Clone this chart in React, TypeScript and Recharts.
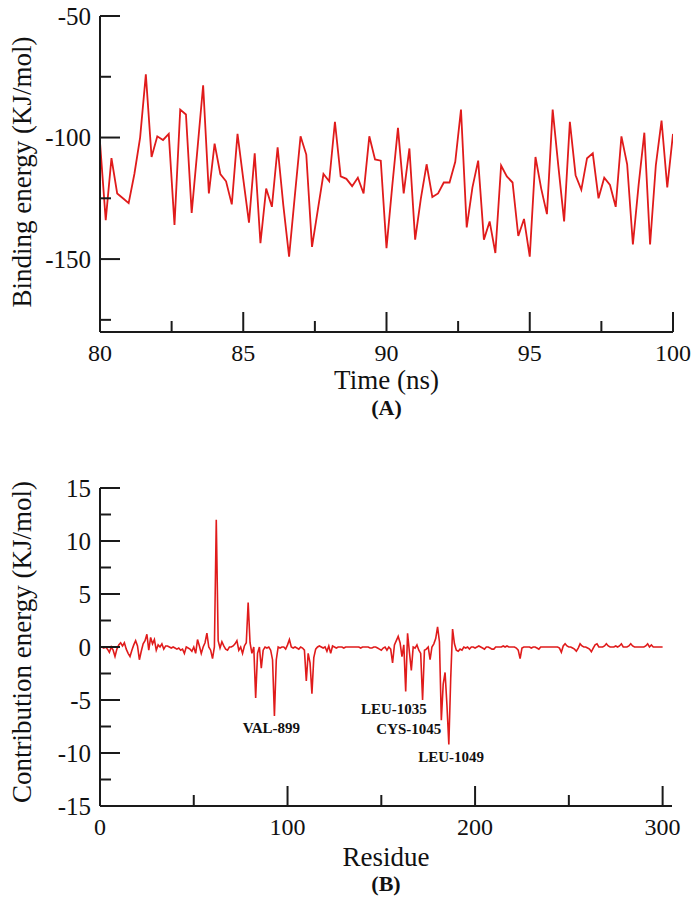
import React from 'react';
import { LineChart, Line, XAxis, YAxis, ReferenceDot } from 'recharts';

const FONT = "'Liberation Serif'";
const RED = '#e01b1b';
const AXIS = '#1a1a1a';

// ---------- Panel A : binding energy vs time ----------
const timeStart = 80;
const timeStep = 0.2;
const bindingEnergy = [
  -102, -134, -108.5, -123, -125, -127, -115, -100, -74, -108,
  -99.5, -101, -98.5, -136, -88.5, -90.5, -131, -105, -78.5, -123,
  -102.5, -115, -118, -127.5, -98.5, -117, -135, -106.5, -143.5, -121,
  -128.5, -104, -128, -149, -124, -99.5, -107, -145, -130, -115,
  -118, -93.5, -116, -117, -120, -116.5, -123, -99.5, -109, -109.5,
  -145.5, -120, -96, -123, -104.5, -142, -125, -111, -124.5, -123,
  -118.5, -118.5, -110, -88.5, -137, -120.5, -109.5, -142, -134.5, -147.5,
  -111.5, -116, -118.5, -140.5, -133.5, -149, -108, -121, -131.5, -88.5,
  -112, -134.5, -93.5, -115.5, -121.5, -108.5, -106.5, -125, -116.5, -119.5,
  -128.5, -99.5, -111, -144, -119.5, -98, -144, -111.5, -93, -120.5,
  -98.5,
];
const timeTicks = [80, 82.5, 85, 87.5, 90, 92.5, 95, 97.5, 100];
const timeMajor = [80, 85, 90, 95, 100];
const energyTicks = [-175, -150, -125, -100, -75, -50];
const energyMajor = [-150, -100, -50];

// ---------- Panel B : per-residue contribution ----------
const residueStart = 0;
const contribution = [
  0, 0, -0.1, 0, -0.2, -0.5, 0, -0.3, -0.9, -0.2,
  0.2, 0.4, 0.1, 0.4, -0.2, -0.6, -0.9, -0.3, 0.2, 0.6,
  0.1, -1.2, -0.4, 0.3, 0.6, 1.2, -0.3, 0.9, 0.3, 0.7,
  -0.3, 0.2, 0, 0.3, -0.2, 0.1, 0.1, 0, -0.1, 0,
  -0.1, -0.2, -0.1, -0.3, -0.2, -0.6, 0, -0.1, -0.2, -0.4,
  0, -0.6, 0.7, 0.1, -0.6, 0, 0.4, 1.3, 0, -0.3,
  -1.1, 0, 12.0, 0.6, -0.1, 0.5, 0.1, -0.2, -0.3, 0,
  0, 0.1, 0.3, 0.6, -0.3, 0, -0.6, 0.1, 0.4, 4.2,
  0.4, -0.6, 0, -4.8, -0.6, 0, -2.0, -0.3, 0, -0.1,
  0, -0.3, -1.2, -6.5, -1.2, 0, -0.1, 0, 0, -0.2,
  0.2, 0.7, 0, -0.1, 0, -0.1, -0.2, 0, -0.1, -0.3,
  -3.2, -0.6, -1.5, -4.4, -1.0, -0.2, 0, 0.1, 0, -0.1,
  0, -0.4, 0.1, -0.6, 0.1, 0, -0.1, 0, 0, 0,
  -0.1, 0, 0, 0, 0, 0, 0, 0, 0, -0.1,
  0, 0, 0, 0, -0.1, -0.1, 0, 0, -0.1, -0.2,
  -0.3, -0.1, 0, -0.3, 0, -0.2, -1.5, 0.2, 0.6, 1.0,
  0.4, -0.9, 0.2, -4.2, 1.3, -0.5, -2.2, 0, -0.1, 0.2,
  -0.3, -0.6, -5.0, -0.3, -0.2, 0, -1.2, 0, 0.3, 0.8,
  1.9, 0.5, -6.9, -3.5, -2.4, -5.5, -9.2, -3.0, 1.7, 0.3,
  -0.3, -0.4, -0.2, -0.3, 0, -0.1, 0, -0.2, 0, 0,
  -0.1, 0, 0.1, 0, -0.1, -0.2, 0, 0, -0.1, -0.2,
  -0.2, 0, 0, 0, 0, 0.1, 0, 0.1, 0, 0,
  0, 0, -0.1, -0.3, -1.1, -0.1, 0, 0, 0, 0,
  -0.1, 0, 0, -0.1, -0.2, 0, 0, 0, 0, 0,
  0, 0, 0, 0, 0, -0.1, -0.5, 0.1, 0.3, 0.1,
  0, 0, -0.1, -0.2, -0.4, -0.1, 0.3, 0.1, 0, 0,
  -0.1, -0.2, -0.45, -0.1, 0.2, 0.3, 0, 0, 0, 0.1,
  0.3, 0.1, 0, 0, 0, 0.1, 0, 0.1, 0.3, 0,
  0, 0, 0.1, 0.3, 0.1, 0, 0, 0, 0, 0,
  0, 0.1, 0.3, 0, 0.2, 0, 0, 0, 0, 0,
  0,
];
const residueTicks = [0, 50, 100, 150, 200, 250, 300];
const residueMajor = [0, 100, 200, 300];
const contribTicks = [-15, -12.5, -10, -7.5, -5, -2.5, 0, 2.5, 5, 7.5, 10, 12.5, 15];
const contribMajor = [-15, -10, -5, 0, 5, 10, 15];

const annotLabels = ['VAL-899', 'LEU-1035', 'CYS-1045', 'LEU-1049'];
const annotResidue = [91.4, 156.7, 164.7, 187.2];
const annotEnergy = [-7.6, -5.85, -7.75, -10.4];

const dataA = bindingEnergy.map((e, i) => ({ t: +(timeStart + i * timeStep).toFixed(1), e }));
const dataB = contribution.map((e, i) => ({ r: residueStart + i, e }));

const TICK_FONT = 24;
const txt = (size: number, bold = false): React.CSSProperties => ({
  fontFamily: FONT,
  fontSize: size,
  fontWeight: bold ? 'bold' : 'normal',
  fill: '#111',
});

function makeTick(side: string, majors: number[], showLabels: boolean) {
  return (props: any) => {
    const { x, y, payload } = props;
    const v = payload.value;
    const major = majors.includes(v);
    const len = major ? 20 : 11;
    let line;
    let label = null;
    if (side === 'bottom') {
      line = <line x1={x} y1={y} x2={x} y2={y - len} stroke={AXIS} strokeWidth={2} />;
      if (showLabels && major)
        label = (
          <text x={x} y={y + 21} textAnchor="middle" dominantBaseline="central" fontFamily="Liberation Serif" style={txt(TICK_FONT)}>
            {v}
          </text>
        );
    } else if (side === 'top') {
      line = <line x1={x} y1={y} x2={x} y2={y + len} stroke={AXIS} strokeWidth={2} />;
    } else if (side === 'left') {
      line = <line x1={x} y1={y} x2={x + len} y2={y} stroke={AXIS} strokeWidth={2} />;
      if (showLabels && major)
        label = (
          <text x={x - 9} y={y} textAnchor="end" dominantBaseline="central" fontFamily="Liberation Serif" style={txt(TICK_FONT + 1)}>
            {v}
          </text>
        );
    } else {
      line = <line x1={x} y1={y} x2={x - len} y2={y} stroke={AXIS} strokeWidth={2} />;
    }
    return (
      <g>
        {line}
        {label}
      </g>
    );
  };
}

function xTitle(title: string, sub: string, d1: number, d2: number) {
  return (props: any) => {
    const vb = props.viewBox || {};
    const cx = vb.x + vb.width / 2;
    return (
      <g>
        <text x={cx} y={vb.y + d1} textAnchor="middle" dominantBaseline="central" fontFamily="Liberation Serif" style={txt(27)}>
          {title}
        </text>
        <text x={cx} y={vb.y + d2} textAnchor="middle" dominantBaseline="central" fontFamily="Liberation Serif" style={txt(22, true)}>
          {sub}
        </text>
      </g>
    );
  };
}

function yTitle(title: string, dy: number) {
  return (props: any) => {
    const vb = props.viewBox || {};
    const cx = 22;
    const cy = vb.y + vb.height / 2 + dy;
    return (
      <text x={cx} y={cy} transform={`rotate(-90, ${cx}, ${cy})`} textAnchor="middle" dominantBaseline="central" fontFamily="Liberation Serif" style={txt(27)}>
        {title}
      </text>
    );
  };
}

function annot(text: string) {
  return (props: any) => {
    const vb = props.viewBox || {};
    const cx = vb.x + (vb.width || 0) / 2;
    const cy = vb.y + (vb.height || 0) / 2;
    return (
      <text x={cx} y={cy} textAnchor="middle" dominantBaseline="central" fontFamily="Liberation Serif" style={txt(15, true)}>
        {text}
      </text>
    );
  };
}

const axisLine = { stroke: AXIS, strokeWidth: 2 };

export default function App() {
  return (
    <div style={{ position: 'absolute', left: 0, top: 0, width: 700, height: 903, background: '#fff' }}>
      <div style={{ position: 'absolute', left: 0, top: 0 }}>
        <LineChart width={700} height={440} data={dataA} margin={{ top: 16, right: 27, bottom: 0, left: 0 }}>
          <XAxis
            dataKey="t"
            type="number"
            domain={[80, 100]}
            ticks={timeTicks}
            interval={0}
            tickLine={false}
            tickSize={0}
            tickMargin={0}
            axisLine={axisLine}
            height={108}
            tick={makeTick('bottom', timeMajor, true)}
            label={{ content: xTitle('Time (ns)', '(A)', 48, 75) }}
            allowDataOverflow
          />
          <XAxis
            xAxisId="top"
            orientation="top"
            dataKey="t"
            type="number"
            domain={[80, 100]}
            ticks={timeTicks}
            interval={0}
            tickLine={false}
            tickSize={0}
            tickMargin={0}
            axisLine={axisLine}
            height={0}
            tick={makeTick('top', timeMajor, false)}
            allowDataOverflow
          />
          <YAxis
            type="number"
            domain={[-180, -50]}
            ticks={energyTicks}
            interval={0}
            tickLine={false}
            tickSize={0}
            tickMargin={0}
            axisLine={axisLine}
            width={100}
            tick={makeTick('left', energyMajor, true)}
            label={{ content: yTitle('Binding energy (KJ/mol)', -2) }}
            allowDataOverflow
          />
          <YAxis
            yAxisId="right"
            orientation="right"
            type="number"
            domain={[-180, -50]}
            ticks={energyTicks}
            interval={0}
            tickLine={false}
            tickSize={0}
            tickMargin={0}
            axisLine={axisLine}
            width={0}
            tick={makeTick('right', energyMajor, false)}
            allowDataOverflow
          />
          <Line type="linear" dataKey="e" stroke={RED} strokeWidth={1.8} dot={false} isAnimationActive={false} />
        </LineChart>
      </div>
      <div style={{ position: 'absolute', left: 0, top: 440 }}>
        <LineChart width={700} height={463} data={dataB} margin={{ top: 48, right: 28, bottom: 0, left: 0 }}>
          <XAxis
            dataKey="r"
            type="number"
            domain={[0, 305]}
            ticks={residueTicks}
            interval={0}
            tickLine={false}
            tickSize={0}
            tickMargin={0}
            axisLine={axisLine}
            height={97}
            tick={makeTick('bottom', residueMajor, true)}
            label={{ content: xTitle('Residue', '(B)', 51, 77) }}
            allowDataOverflow
          />
          <XAxis
            xAxisId="top"
            orientation="top"
            dataKey="r"
            type="number"
            domain={[0, 305]}
            ticks={residueTicks}
            interval={0}
            tickLine={false}
            tickSize={0}
            tickMargin={0}
            axisLine={axisLine}
            height={0}
            tick={makeTick('top', residueMajor, false)}
            allowDataOverflow
          />
          <YAxis
            type="number"
            domain={[-15, 15]}
            ticks={contribTicks}
            interval={0}
            tickLine={false}
            tickSize={0}
            tickMargin={0}
            axisLine={axisLine}
            width={100}
            tick={makeTick('left', contribMajor, true)}
            label={{ content: yTitle('Contribution energy (KJ/mol)', -5) }}
            allowDataOverflow
          />
          <YAxis
            yAxisId="right"
            orientation="right"
            type="number"
            domain={[-15, 15]}
            ticks={contribTicks}
            interval={0}
            tickLine={false}
            tickSize={0}
            tickMargin={0}
            axisLine={axisLine}
            width={0}
            tick={makeTick('right', contribMajor, false)}
            allowDataOverflow
          />
          <Line type="linear" dataKey="e" stroke={RED} strokeWidth={1.6} dot={false} isAnimationActive={false} />
          {annotLabels.map((lab, i) => (
            <ReferenceDot
              key={lab}
              x={annotResidue[i]}
              y={annotEnergy[i]}
              r={1}
              fill="none"
              stroke="none"
              label={{ content: annot(lab) }}
            />
          ))}
        </LineChart>
      </div>
    </div>
  );
}
